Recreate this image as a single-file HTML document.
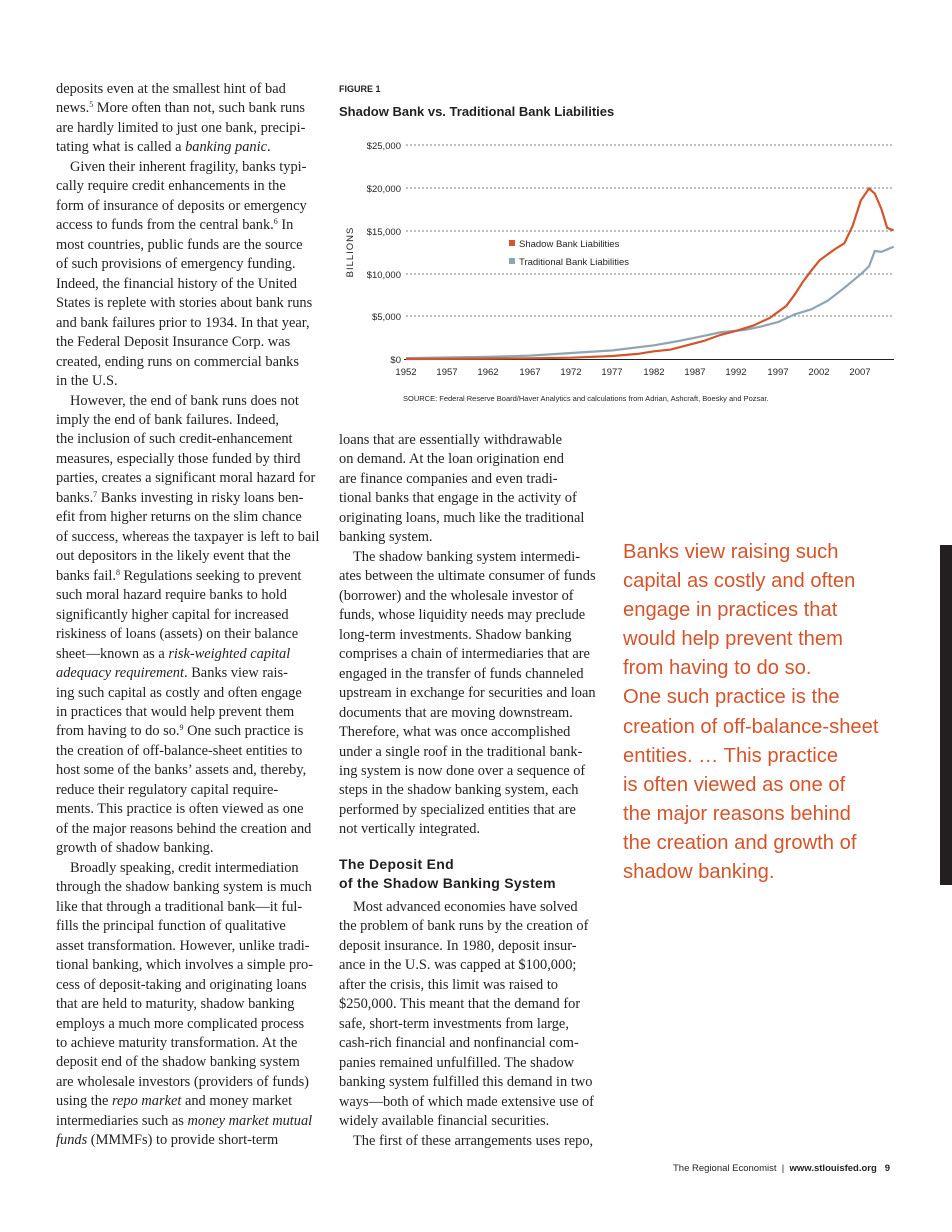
<!DOCTYPE html>
<html><head><meta charset="utf-8"><style>
body{margin:0;width:952px;height:1232px;background:#fff;position:relative;overflow:hidden;font-family:"Liberation Serif",serif;color:#231f20}
.col{position:absolute;font-size:14.4px;line-height:19.47px}
.col div{white-space:nowrap}
.col div.i{text-indent:14px}
sup{font-size:8px;line-height:0;vertical-align:5px}
.h{font-family:"Liberation Sans",sans-serif;font-weight:bold;font-size:14px;line-height:19px;letter-spacing:0.3px}
.pq{position:absolute;left:623px;top:538px;font-family:"Liberation Sans",sans-serif;font-size:20.2px;line-height:29.1px;color:#d4542c;white-space:nowrap}
</style></head><body>
<div class="col" style="left:56px;top:80px;width:265px">
<div>deposits even at the smallest hint of bad</div>
<div>news.<sup>5</sup> More often than not, such bank runs</div>
<div>are hardly limited to just one bank, precipi-</div>
<div>tating what is called a <i>banking panic</i>.</div>
<div class="i">Given their inherent fragility, banks typi-</div>
<div>cally require credit enhancements in the</div>
<div>form of insurance of deposits or emergency</div>
<div>access to funds from the central bank.<sup>6</sup> In</div>
<div>most countries, public funds are the source</div>
<div>of such provisions of emergency funding.</div>
<div>Indeed, the financial history of the United</div>
<div>States is replete with stories about bank runs</div>
<div>and bank failures prior to 1934. In that year,</div>
<div>the Federal Deposit Insurance Corp. was</div>
<div>created, ending runs on commercial banks</div>
<div>in the U.S.</div>
<div class="i">However, the end of bank runs does not</div>
<div>imply the end of bank failures. Indeed,</div>
<div>the inclusion of such credit-enhancement</div>
<div>measures, especially those funded by third</div>
<div>parties, creates a significant moral hazard for</div>
<div>banks.<sup>7</sup> Banks investing in risky loans ben-</div>
<div>efit from higher returns on the slim chance</div>
<div>of success, whereas the taxpayer is left to bail</div>
<div>out depositors in the likely event that the</div>
<div>banks fail.<sup>8</sup> Regulations seeking to prevent</div>
<div>such moral hazard require banks to hold</div>
<div>significantly higher capital for increased</div>
<div>riskiness of loans (assets) on their balance</div>
<div>sheet—known as a <i>risk-weighted capital</i></div>
<div><i>adequacy requirement</i>. Banks view rais-</div>
<div>ing such capital as costly and often engage</div>
<div>in practices that would help prevent them</div>
<div>from having to do so.<sup>9</sup> One such practice is</div>
<div>the creation of off-balance-sheet entities to</div>
<div>host some of the banks’ assets and, thereby,</div>
<div>reduce their regulatory capital require-</div>
<div>ments. This practice is often viewed as one</div>
<div>of the major reasons behind the creation and</div>
<div>growth of shadow banking.</div>
<div class="i">Broadly speaking, credit intermediation</div>
<div>through the shadow banking system is much</div>
<div>like that through a traditional bank—it ful-</div>
<div>fills the principal function of qualitative</div>
<div>asset transformation. However, unlike tradi-</div>
<div>tional banking, which involves a simple pro-</div>
<div>cess of deposit-taking and originating loans</div>
<div>that are held to maturity, shadow banking</div>
<div>employs a much more complicated process</div>
<div>to achieve maturity transformation. At the</div>
<div>deposit end of the shadow banking system</div>
<div>are wholesale investors (providers of funds)</div>
<div>using the <i>repo market</i> and money market</div>
<div>intermediaries such as <i>money market mutual</i></div>
<div><i>funds</i> (MMMFs) to provide short-term</div>
</div>

<div class="col" style="left:339px;top:431px;width:263px">
<div>loans that are essentially withdrawable</div>
<div>on demand. At the loan origination end</div>
<div>are finance companies and even tradi-</div>
<div>tional banks that engage in the activity of</div>
<div>originating loans, much like the traditional</div>
<div>banking system.</div>
<div class="i">The shadow banking system intermedi-</div>
<div>ates between the ultimate consumer of funds</div>
<div>(borrower) and the wholesale investor of</div>
<div>funds, whose liquidity needs may preclude</div>
<div>long-term investments. Shadow banking</div>
<div>comprises a chain of intermediaries that are</div>
<div>engaged in the transfer of funds channeled</div>
<div>upstream in exchange for securities and loan</div>
<div>documents that are moving downstream.</div>
<div>Therefore, what was once accomplished</div>
<div>under a single roof in the traditional bank-</div>
<div>ing system is now done over a sequence of</div>
<div>steps in the shadow banking system, each</div>
<div>performed by specialized entities that are</div>
<div>not vertically integrated.</div>
</div>
<div class="h" style="position:absolute;left:339px;top:855px">The Deposit End<br>of the Shadow Banking System</div>
<div class="col" style="left:339px;top:898px;width:263px">
<div class="i">Most advanced economies have solved</div>
<div>the problem of bank runs by the creation of</div>
<div>deposit insurance. In 1980, deposit insur-</div>
<div>ance in the U.S. was capped at $100,000;</div>
<div>after the crisis, this limit was raised to</div>
<div>$250,000. This meant that the demand for</div>
<div>safe, short-term investments from large,</div>
<div>cash-rich financial and nonfinancial com-</div>
<div>panies remained unfulfilled. The shadow</div>
<div>banking system fulfilled this demand in two</div>
<div>ways—both of which made extensive use of</div>
<div>widely available financial securities.</div>
<div class="i">The first of these arrangements uses repo,</div>
</div>

<div class="pq">Banks view raising such<br>capital as costly and often<br>engage in practices that<br>would help prevent them<br>from having to do so.<br>One such practice is the<br>creation of off-balance-sheet<br>entities. … This practice<br>is often viewed as one of<br>the major reasons behind<br>the creation and growth of<br>shadow banking.</div>
<div style="position:absolute;left:940px;top:545px;width:12px;height:340px;background:#231f20"></div>

<div style="position:absolute;left:673px;top:1163px;font-family:'Liberation Sans',sans-serif;font-size:9.5px;white-space:nowrap">The Regional Economist &nbsp;|&nbsp; <b>www.stlouisfed.org &nbsp; 9</b></div>

<svg style="position:absolute;left:0;top:0" width="952" height="420" font-family="Liberation Sans, sans-serif">
<text x="339" y="92" font-size="9" font-weight="bold" fill="#231f20">FIGURE 1</text>
<text x="339" y="116" font-size="13" font-weight="bold" fill="#231f20">Shadow Bank vs. Traditional Bank Liabilities</text>
<g stroke="#555" stroke-width="0.8" stroke-dasharray="2,2">
<line x1="406" y1="145" x2="894" y2="145"/><line x1="406" y1="188" x2="894" y2="188"/><line x1="406" y1="231" x2="894" y2="231"/><line x1="406" y1="274" x2="894" y2="274"/><line x1="406" y1="316" x2="894" y2="316"/>
</g>
<line x1="404" y1="359.5" x2="894" y2="359.5" stroke="#231f20" stroke-width="1"/>
<g font-size="9.5" fill="#231f20" text-anchor="end">
<text x="401" y="149">$25,000</text><text x="401" y="192">$20,000</text><text x="401" y="235">$15,000</text><text x="401" y="278">$10,000</text><text x="401" y="320">$5,000</text><text x="401" y="363">$0</text>
</g>
<g font-size="9.5" fill="#231f20" text-anchor="middle">
<text x="406" y="375">1952</text><text x="447" y="375">1957</text><text x="488" y="375">1962</text><text x="530" y="375">1967</text><text x="571" y="375">1972</text><text x="612" y="375">1977</text><text x="654" y="375">1982</text><text x="695" y="375">1987</text><text x="736" y="375">1992</text><text x="778" y="375">1997</text><text x="819" y="375">2002</text><text x="860" y="375">2007</text>
</g>
<text transform="translate(353,252) rotate(-90)" font-size="9.5" text-anchor="middle" fill="#231f20" letter-spacing="1">BILLIONS</text>
<polyline fill="none" stroke="#8ea6b3" stroke-width="2.2" points="406,358.1 488.7,356.9 530,355.6 571.4,353 612.8,350.4 654,345.3 678.8,341 703.6,335.9 720.2,332.4 745,329.9 761.5,326.4 778,322.1 794.6,314.4 811.2,309.3 827.7,300.7 844.3,287.9 860.8,274.2 869,266.4 874.8,251 881.4,251.9 889.7,248.4 893.7,246.7"/>
<polyline fill="none" stroke="#d4542c" stroke-width="2.2" points="406,359 488.7,358.6 530,358.3 571.4,357.7 612.8,356 637.6,353.9 654,351.3 670.6,349.6 687,345.3 703.6,341 720.2,335 736.7,330.7 753.3,325.6 769.8,317.9 786.3,305.9 794.6,294.7 802.9,281.9 811.2,270.7 819.5,260.4 827.7,254.4 836,248.4 844.3,243.3 852.5,226.2 860.8,200.5 869,188.5 874.8,193.6 881.4,209 887.2,227.9 893.7,230.4"/>
<rect x="509" y="240" width="6" height="6" fill="#d4542c"/>
<rect x="509" y="258" width="6" height="6" fill="#8ea6b3"/>
<text x="519" y="247" font-size="9.5" fill="#231f20">Shadow Bank Liabilities</text>
<text x="519" y="265" font-size="9.5" fill="#231f20">Traditional Bank Liabilities</text>
<text x="403" y="401" font-size="7.5" fill="#231f20">SOURCE: Federal Reserve Board/Haver Analytics and calculations from Adrian, Ashcraft, Boesky and Pozsar.</text>
</svg>
</body></html>
